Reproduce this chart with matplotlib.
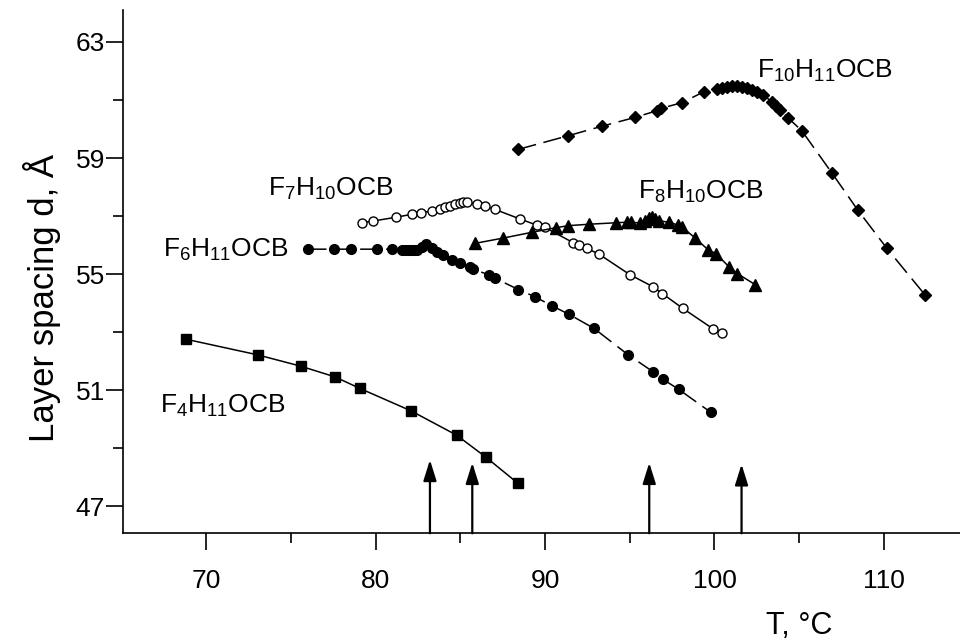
import numpy as np
import matplotlib
matplotlib.use("Agg")
import matplotlib.pyplot as plt
from matplotlib.ticker import MultipleLocator

plt.rcParams['font.family'] = ['Liberation Sans', 'DejaVu Sans']
plt.rcParams['mathtext.fontset'] = 'custom'
plt.rcParams['mathtext.rm'] = 'Liberation Sans'
plt.rcParams['mathtext.it'] = 'Liberation Sans'

# F4H11OCB (squares)
t_f4 = [68.77, 73.02, 75.56, 77.59, 79.07, 82.08, 84.78, 86.51, 88.40]
d_f4 = [52.76, 52.22, 51.83, 51.46, 51.06, 50.29, 49.45, 48.69, 47.79]

# F6H11OCB (filled circles)
t_f6 = [76.01, 77.53, 78.54, 80.05, 80.97, 81.53, 81.72, 81.90, 82.08, 82.26,
        82.42, 82.71, 82.97, 83.30, 83.60, 83.99, 84.48, 84.97, 85.56, 85.76,
        86.70, 87.04, 88.42, 89.40, 90.43, 91.43, 92.89, 94.88, 96.39, 96.95,
        97.89, 99.78]
d_f6 = [55.86, 55.86, 55.86, 55.86, 55.86, 55.83, 55.83, 55.83, 55.83, 55.83,
        55.83, 55.92, 56.03, 55.89, 55.77, 55.66, 55.48, 55.37, 55.25, 55.17,
        54.97, 54.86, 54.47, 54.22, 53.90, 53.61, 53.13, 52.23, 51.63, 51.38,
        51.03, 50.24]

# F7H10OCB (open circles)
t_f7 = [79.17, 79.85, 81.19, 82.12, 82.65, 83.30, 83.79, 84.09, 84.38, 84.68,
        84.97, 85.15, 85.37, 85.96, 86.45, 87.04, 88.52, 89.50, 89.99, 91.67,
        92.00, 92.46, 93.18, 95.01, 96.39, 96.92, 98.13, 99.93, 100.43]
d_f7 = [56.77, 56.83, 56.96, 57.06, 57.12, 57.17, 57.23, 57.30, 57.35, 57.40,
        57.44, 57.47, 57.48, 57.41, 57.34, 57.23, 56.90, 56.69, 56.61, 56.08,
        56.00, 55.89, 55.69, 54.98, 54.56, 54.33, 53.82, 53.11, 52.97]

# F8H10OCB (triangles)
t_f8 = [85.86, 87.50, 89.21, 90.64, 91.37, 92.61, 94.19, 94.82, 95.07, 95.61,
        95.90, 96.14, 96.30, 96.49, 96.75, 97.34, 97.87, 98.07, 98.85, 99.64,
        100.09, 100.86, 101.35, 102.40]
d_f8 = [56.06, 56.24, 56.44, 56.60, 56.67, 56.72, 56.77, 56.79, 56.78, 56.77,
        56.83, 56.92, 56.96, 56.91, 56.84, 56.78, 56.69, 56.63, 56.25, 55.83,
        55.71, 55.25, 55.02, 54.64]

# F10H11OCB (diamonds)
t_f10 = [88.42, 91.37, 93.38, 95.31, 96.59, 96.83, 98.10, 99.39, 100.17, 100.43,
         100.73, 101.02, 101.32, 101.61, 101.91, 102.20, 102.50, 102.89, 103.38,
         103.64, 103.88, 104.37, 105.16, 106.93, 108.46, 110.18, 112.44]
d_f10 = [59.30, 59.77, 60.10, 60.40, 60.63, 60.71, 60.91, 61.29, 61.37, 61.40,
         61.46, 61.48, 61.48, 61.46, 61.42, 61.34, 61.27, 61.17, 60.94, 60.79,
         60.66, 60.37, 59.94, 58.49, 57.21, 55.89, 54.28]

# transition temperatures (arrows)
t_arrows = [83.2, 85.7, 96.15, 101.6]
d_arrow_tips = [48.6, 48.5, 48.5, 48.45]

labels = [r'F$_{4}$H$_{11}$OCB', r'F$_{6}$H$_{11}$OCB', r'F$_{7}$H$_{10}$OCB',
          r'F$_{8}$H$_{10}$OCB', r'F$_{10}$H$_{11}$OCB']
label_pos = [(67.25, 50.45), (67.44, 55.83), (73.64, 57.92),
             (95.5, 57.84), (102.5, 62.0)]

fig = plt.figure(figsize=(9.6, 6.43), dpi=100)
ax = fig.add_axes([0.1284, 0.1706, 0.8716, 0.8138])

dash = (0, (12, 5))
ax.plot(t_f4, d_f4, color='k', lw=1.1, marker='s', ms=6.5)
ax.plot(t_f6, d_f6, color='k', lw=1.1, ls=dash, marker='o', ms=7)
ax.plot(t_f7, d_f7, color='k', lw=1.1, marker='o', ms=6.5, mfc='white', mew=1.0)
ax.plot(t_f8, d_f8, color='k', lw=1.1, marker='^', ms=8)
ax.plot(t_f10, d_f10, color='k', lw=1.1, ls=dash, marker='D', ms=6)

for t, tip in zip(t_arrows, d_arrow_tips):
    ax.annotate('', xy=(t, tip), xytext=(t, 46.07),
                arrowprops=dict(arrowstyle='-|>,head_width=0.22,head_length=0.7',
                                color='k', lw=1.6, mutation_scale=18,
                                shrinkA=0, shrinkB=0))

for lab, (x, y) in zip(labels, label_pos):
    ax.text(x, y, lab, fontsize=19, ha='left', va='center')

ax.set_xlim(65.09, 114.5)
ax.set_ylim(46.07, 64.1)
ax.spines['top'].set_visible(False)
ax.spines['right'].set_visible(False)
ax.spines['left'].set_linewidth(1.2)
ax.spines['bottom'].set_linewidth(1.2)

ax.xaxis.set_major_locator(MultipleLocator(10))
ax.xaxis.set_minor_locator(MultipleLocator(5))
ax.set_yticks([47, 51, 55, 59, 63])
ax.set_yticks([49, 53, 57, 61], minor=True)
ax.tick_params(which='major', direction='out', length=12, width=1.2, labelsize=19)
ax.tick_params(which='minor', direction='out', length=7, width=1.2)
ax.tick_params(axis='y', pad=1)
ax.tick_params(axis='x', pad=14)

ax.set_ylabel('Layer spacing d, Å', fontsize=25)
ax.yaxis.set_label_coords(-0.075, 0.45)
ax.text(105.0, -0.178, 'T, °C', transform=ax.get_xaxis_transform(),
        fontsize=22, ha='center', va='center')

fig.savefig('out.png', dpi=100)
